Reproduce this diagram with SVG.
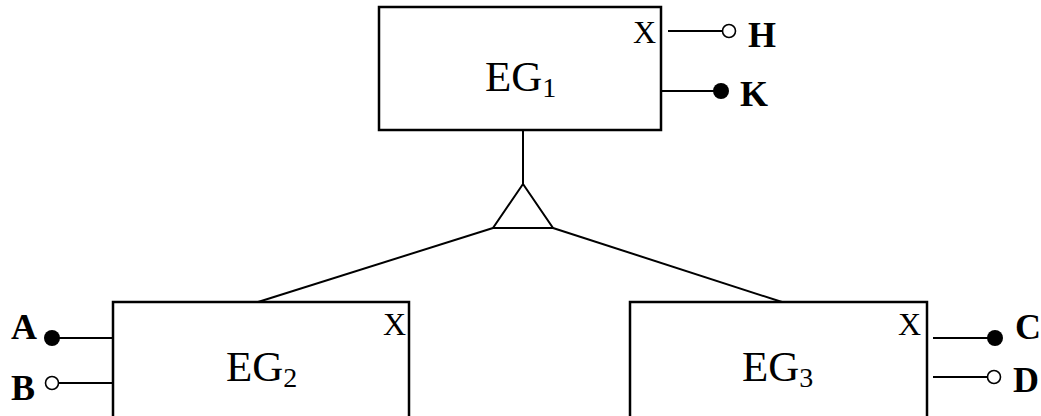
<svg xmlns="http://www.w3.org/2000/svg" width="1041" height="416" viewBox="0 0 1041 416">
<style>
.box{fill:#fff;stroke:#000;stroke-width:2.5}
.ln{stroke:#000;stroke-width:2;fill:none}
.open{fill:#fff;stroke:#000;stroke-width:1.6}
.dot{fill:#000}
.t{font-family:"Liberation Serif","Times New Roman",serif;fill:#000}
.nm{font-size:43px}
.sub{font-size:28px}
.x{font-size:32px}
.lb{font-size:36px;font-weight:bold}
</style>
<rect width="1041" height="416" fill="#fff"/>
<g id="connectors">
<line class="ln" x1="523" y1="130" x2="523" y2="184"/>
<polygon class="ln" points="523,184 493,228 553,228"/>
<line class="ln" x1="493" y1="228" x2="258" y2="302"/>
<line class="ln" x1="553" y1="228" x2="782" y2="302"/>
</g>
<g id="EG1">
<rect class="box" x="379" y="7" width="282" height="123"/>
<text class="t nm" x="485" y="91">EG<tspan class="sub" dy="6">1</tspan></text>
<text class="t x" x="633" y="43">X</text>
<line class="ln" x1="668" y1="31" x2="723" y2="31"/>
<circle class="open" cx="729" cy="31" r="6.5"/>
<text class="t lb" x="748" y="47">H</text>
<line class="ln" x1="661" y1="91" x2="715" y2="91"/>
<circle class="dot" cx="721" cy="91" r="8"/>
<text class="t lb" x="740" y="106">K</text>
</g>
<g id="EG2">
<rect class="box" x="113" y="302" width="296" height="130"/>
<text class="t nm" x="226" y="381">EG<tspan class="sub" dy="6">2</tspan></text>
<text class="t x" x="383" y="335">X</text>
<line class="ln" x1="52" y1="338" x2="113" y2="338"/>
<circle class="dot" cx="52" cy="338" r="8"/>
<text class="t lb" x="11" y="339">A</text>
<line class="ln" x1="58" y1="383" x2="113" y2="383"/>
<circle class="open" cx="52" cy="383" r="6.5"/>
<text class="t lb" x="11" y="400">B</text>
</g>
<g id="EG3">
<rect class="box" x="630" y="302" width="297" height="130"/>
<text class="t nm" x="742" y="381">EG<tspan class="sub" dy="6">3</tspan></text>
<text class="t x" x="898" y="335">X</text>
<line class="ln" x1="933" y1="338" x2="995" y2="338"/>
<circle class="dot" cx="995" cy="338" r="8"/>
<text class="t lb" x="1015" y="339">C</text>
<line class="ln" x1="933" y1="377" x2="988" y2="377"/>
<circle class="open" cx="994" cy="377" r="6.5"/>
<text class="t lb" x="1013" y="392">D</text>
</g>
</svg>
